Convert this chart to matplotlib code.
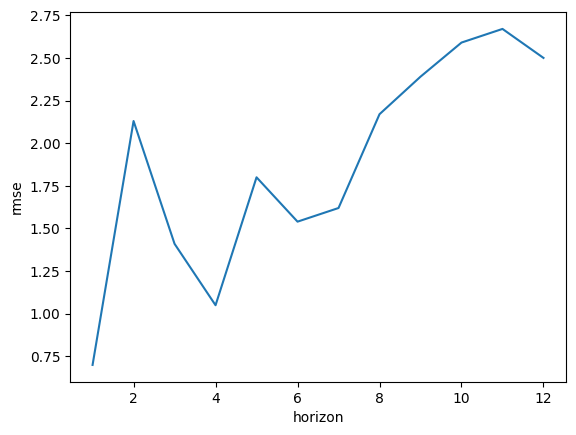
import matplotlib
matplotlib.use("Agg")
import matplotlib.pyplot as plt

horizon = [1, 2, 3, 4, 5, 6, 7, 8, 9, 10, 11, 12]
rmse = [0.70, 2.13, 1.41, 1.05, 1.80, 1.54, 1.62, 2.17, 2.39, 2.59, 2.67, 2.50]

fig, ax = plt.subplots(figsize=(6.4, 4.8), dpi=100)
ax.plot(horizon, rmse)
ax.set_xlabel("horizon")
ax.set_ylabel("rmse")
fig.savefig("out.png", dpi=100, bbox_inches="tight")
